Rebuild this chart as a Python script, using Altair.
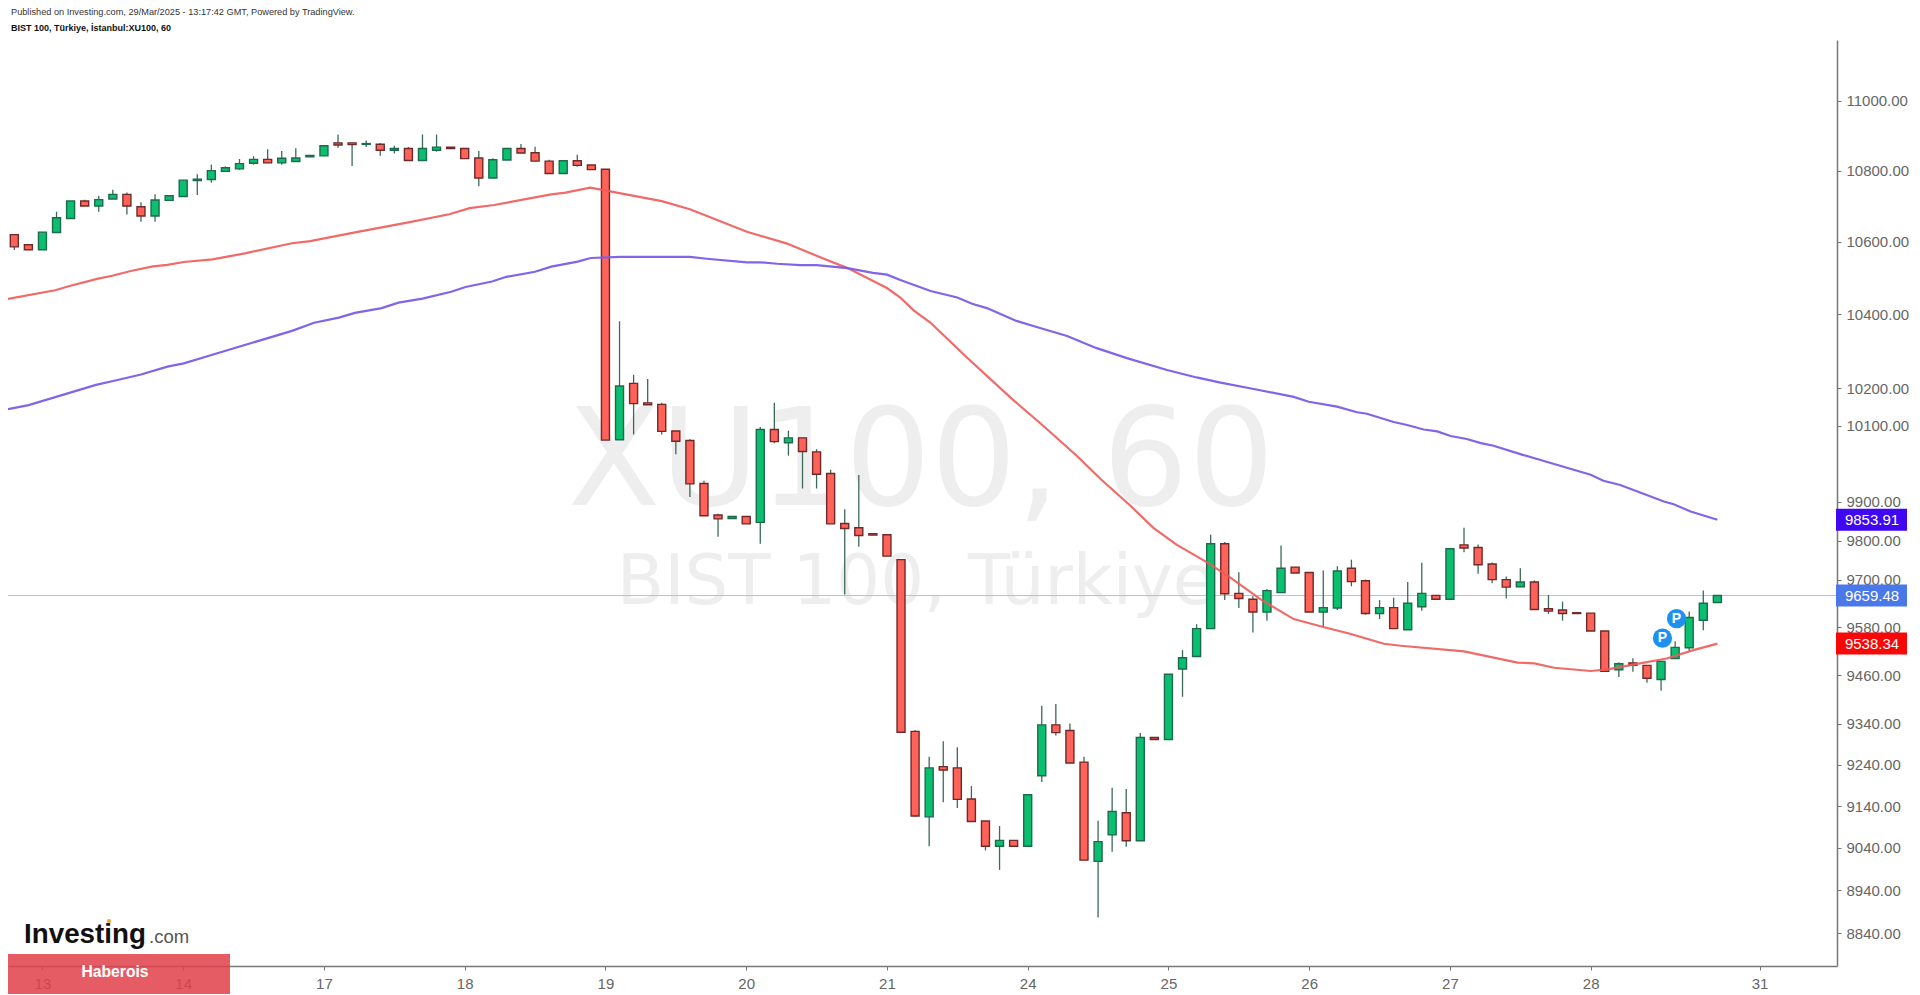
import altair as alt
import pandas as pd

# Candle values (hourly bars, BIST 100)
tops = [10620,10592,10627,10667,10714,10714,10718,10733,10733,10698,10717,10729,10773,10776,10800,10808,10820,10832,10832,10835,10836,10843,10871,10879,10879,10877,10875,10863,10863,10863,10867,10867,10863,10836,10831,10863,10863,10851,10827,10828,10828,10816,10804,
        10206,10213,10161,10157,10086,10061,9948,9866,9862,9862,10090,10090,10068,10068,10031,9974,9844,9833,9818,9815,9751,9321,9232,9235,9232,9157,9104,9058,9058,9167,9337,9337,9323,9246,9055,9127,9124,9306,9306,9462,9503,9576,
        9792,9792,9665,9650,9672,9729,9732,9718,9629,9722,9729,9697,9629,9629,9640,9665,9660,9779,9789,9782,9740,9700,9694,9694,9626,9623,9616,9615,9570,9488,9490,9484,9494,9529,9604,9640,9659.48]
bottoms = [10586,10578,10578,10626,10665,10700,10700,10720,10700,10672,10672,10716,10727,10772,10775,10798,10805,10821,10822,10822,10826,10839,10842,10873,10874,10875,10858,10858,10829,10829,10858,10863,10834,10779,10779,10830,10850,10827,10792,10792,10815,10803,10062,
           10063,10159,10156,10085,10059,9947,9864,9856,9857,9843,9847,10058,10055,10032,9972,9843,9831,9813,9814,9760,9319,9116,9114,9227,9156,9103,9044,9044,9044,9044,9213,9318,9244,9011,9008,9071,9057,9057,9301,9301,9475,9506,
           9576,9664,9652,9618,9618,9667,9717,9618,9618,9628,9695,9614,9614,9576,9573,9631,9650,9650,9781,9738,9700,9681,9682,9624,9620,9614,9614,9570,9469,9473,9484,9452,9449,9501,9528,9597,9642]
highs = [10620,10592,10627,10684,10714,10718,10729,10746,10738,10711,10733,10729,10773,10790,10817,10812,10833,10841,10861,10856,10864,10843,10871,10903,10879,10886,10879,10871,10867,10903,10903,10867,10863,10856,10835,10863,10876,10868,10831,10828,10845,10816,10804,
         10381,10236,10225,10161,10086,10064,9955,9869,9862,9862,10097,10161,10087,10068,10038,9984,9881,9970,9818,9815,9751,9324,9259,9297,9282,9188,9104,9092,9058,9167,9384,9388,9340,9259,9105,9184,9181,9317,9306,9462,9522,9587,
         9815,9796,9719,9658,9676,9787,9732,9718,9723,9734,9751,9700,9648,9654,9694,9743,9660,9779,9833,9790,9744,9708,9729,9698,9661,9644,9616,9615,9570,9492,9502,9484,9494,9544,9619,9672,9659.48]
lows = [10577,10578,10578,10626,10665,10700,10684,10720,10676,10656,10656,10716,10727,10731,10766,10798,10802,10817,10822,10817,10826,10839,10842,10865,10813,10867,10842,10849,10829,10829,10854,10863,10834,10756,10779,10830,10850,10827,10792,10792,10811,10803,10062,
        10063,10077,10156,10077,10025,9913,9864,9810,9857,9843,9792,10054,10021,9935,9935,9843,9662,9784,9814,9760,9319,9114,9044,9149,9135,9103,9034,8988,9044,9044,9198,9311,9244,9011,8876,9031,9043,9057,9301,9301,9406,9506,
        9576,9648,9628,9566,9596,9667,9717,9618,9580,9623,9683,9611,9600,9576,9573,9621,9650,9650,9770,9715,9691,9652,9682,9624,9613,9596,9614,9570,9469,9455,9468,9441,9421,9501,9520,9572,9642]
rising = [0,0,1,1,1,0,1,1,0,0,1,1,1,1,1,1,1,1,0,1,1,1,1,0,0,1,0,1,0,1,1,0,0,0,1,1,0,0,0,1,0,0,0,
          1,0,0,0,0,0,0,0,1,0,1,0,1,0,0,0,0,0,0,0,0,0,1,0,0,0,0,1,0,1,1,0,0,0,1,1,0,1,0,1,1,1,
          1,0,0,0,1,1,0,0,1,1,0,0,1,0,1,1,0,1,0,0,0,0,1,0,0,0,0,0,0,1,0,0,1,1,1,1,1]

# Moving averages: (bar position, price)
red_x = [-0.45,2.9,4.06,5.95,6.96,8.27,9.86,10.88,12.04,14.07,16.39,19.73,21.03,23.93,28.0,30.9,32.35,34.09,38.15,39.16,40.92,41.86,46.0,48.0,52.05,54.9,57.7,59.2,62.0,62.95,63.9,65.1,67.7,70.9,73.1,75.5,77.2,79.3,80.95,82.6,84.75,86.4,88.5,90.9,93.0,94.9,97.3,98.5,103.0,106.8,108.0,109.4,112.0,113.2,115.5,117.4,119.3,121.0]
red_y = [10442,10466,10479,10498,10506,10519,10532,10536,10544,10551,10568,10596,10602,10624,10654,10677,10694,10703,10733,10738,10752,10745,10714,10691,10628,10595,10550,10527,10472,10446,10411,10377,10282,10171,10100,10020,9959,9890,9832,9789,9744,9705,9651,9600,9580,9563,9538,9533,9519,9491,9489,9478,9470,9474,9489,9501,9522,9538.34]
purple_x = [-0.45,1.02,5.8,7.1,9.0,10.88,12.04,14.07,19.73,21.3,23.06,24.2,26.1,27.3,29.0,31.04,32.06,33.94,34.96,37.0,38.15,40.03,40.96,43.05,48.0,49.2,52.05,53.0,54.2,55.84,57.0,59.2,61.0,62.0,62.95,65.1,67.0,68.05,69.1,71.2,72.4,74.8,76.9,79.05,81.9,84.0,85.7,88.06,90.9,91.97,93.98,95.4,96.1,98.0,98.96,100.14,101.1,102.04,103.2,104.2,105.1,107.0,109.4,112.0,112.9,114.1,117.2,117.9,119.1,121.0]
purple_y = [10144,10155,10209,10220,10237,10258,10267,10290,10355,10377,10391,10404,10417,10432,10443,10462,10475,10490,10503,10517,10531,10545,10555,10558,10558,10553,10543,10543,10539,10535,10535,10527,10514,10509,10494,10464,10446,10429,10417,10382,10368,10341,10308,10281,10249,10229,10215,10198,10177,10164,10151,10136,10132,10110,10102,10090,10085,10073,10065,10054,10047,10025,9999,9971,9955,9944,9901,9894,9875,9853.91]

y_ticks = [11000,10800,10600,10400,10200,10100,9900,9800,9700,9580,9460,9340,9240,9140,9040,8940,8840]
x_ticks = [2,12,22,32,42,52,62,72,82,92,102,112,124]
x_labels = ["13","14","17","18","19","20","21","24","25","26","27","28","31"]

badge_prices = [9853.91, 9659.48, 9538.34]
badge_colors = ["#3f07f2", "#4b78e8", "#f90606"]
p_x = [117.1, 118.1]
p_y = [9552, 9601]

bars = pd.DataFrame({"i": list(range(len(tops))), "top": tops, "bottom": bottoms,
                     "high": highs, "low": lows, "rising": rising})

FONT = "Liberation Sans"
x_scale = alt.Scale(domain=[-0.448, 129.5], range=[0, 1829], nice=False, zero=False, padding=0)
y_scale = alt.Scale(type="log", domain=[8763.9, 11177.0], nice=False, zero=False, padding=0)

label_expr = " : ".join(f"datum.value == {v} ? '{t}'" for v, t in zip(x_ticks, x_labels)) + " : ''"
x_axis = alt.Axis(values=x_ticks, labelExpr=label_expr, title=None, grid=False, tickSize=4,
                  tickColor="#777777", domainColor="#777777", domainWidth=1.5, labelFont=FONT,
                  labelFontSize=15, labelColor="#666666", labelPadding=6, labelOverlap=False,
                  labelBound=False, labelFlush=False)
y_axis = alt.Axis(values=y_ticks, format=".2f", orient="right", title=None, grid=False, tickSize=4,
                  tickColor="#777777", domainColor="#777777", domainWidth=1.5, labelFont=FONT,
                  labelFontSize=15, labelColor="#666666", labelPadding=5, labelOverlap=False,
                  labelBound=False, labelFlush=False)
X = alt.X("i:Q", scale=x_scale, axis=x_axis)
Y = lambda f: alt.Y(f, scale=y_scale, axis=y_axis)
rows = pd.DataFrame({"n": [0]})


def text(t, px, py, size, color, weight="normal", align="left", font=FONT):
    return alt.Chart(rows).mark_text(text=t, fontSize=size, color=color, fontWeight=weight,
                                     align=align, baseline="middle", font=font).encode(
        x=alt.value(px - 8), y=alt.value(py - 40))


wm1 = text("XU100, 60", 921, 464, 135, "#eeeeee", align="center", font="DejaVu Sans")
wm2 = text("BIST 100, Türkiye", 916, 583, 69, "#eeeeee", align="center", font="DejaVu Sans")

price_line = alt.Chart(pd.DataFrame({"p": [badge_prices[1]]})).mark_rule(
    color="#aebff2", strokeWidth=1).encode(y=Y("p:Q"))

wicks = alt.Chart(bars).mark_rule(color="#3c6a58", strokeWidth=1.3).encode(
    x=X, y=Y("high:Q"), y2="low:Q")

rise_scale = alt.Scale(domain=[0, 1], range=["#ff6259", "#0abf70"])
edge_scale = alt.Scale(domain=[0, 1], range=["#6e2a2a", "#1d6b4c"])
bodies = alt.Chart(bars).mark_bar(size=8, strokeWidth=1.4, orient="vertical").encode(
    x=X, y=Y("top:Q"), y2="bottom:Q",
    fill=alt.Fill("rising:O", scale=rise_scale, legend=None),
    stroke=alt.Stroke("rising:O", scale=edge_scale, legend=None))

red_line = alt.Chart(pd.DataFrame({"i": red_x, "p": red_y})).mark_line(
    color="#ee5a58", strokeWidth=2.2, opacity=0.9).encode(x=X, y=Y("p:Q"))
purple_line = alt.Chart(pd.DataFrame({"i": purple_x, "p": purple_y})).mark_line(
    color="#7a5ce8", strokeWidth=2.2, opacity=0.95).encode(x=X, y=Y("p:Q"))

p_df = pd.DataFrame({"i": p_x, "p": p_y})
p_dots = alt.Chart(p_df).mark_circle(size=370, color="#1e90f0", opacity=1).encode(x=X, y=Y("p:Q"))
p_text = alt.Chart(p_df).mark_text(text="P", color="white", fontSize=14, font=FONT, fontWeight="bold",
                                   baseline="middle").encode(x=X, y=Y("p:Q"))

b_df = pd.DataFrame({"p": badge_prices, "c": badge_colors,
                     "t": [f"{v:.2f}" for v in badge_prices]})
badges = alt.Chart(b_df).mark_rect(height=22).encode(
    x=alt.value(1828), x2=alt.value(1899), y=Y("p:Q"),
    fill=alt.Fill("c:N", scale=None, legend=None))
badge_text = alt.Chart(b_df).mark_text(color="white", fontSize=15, font=FONT, baseline="middle").encode(
    x=alt.value(1864), y=Y("p:Q"), text="t:N")

head1 = text("Published on Investing.com, 29/Mar/2025 - 13:17:42 GMT, Powered by TradingView.",
             11, 12, 9.2, "#333333")
head2 = text("BIST 100, Türkiye, İstanbul:XU100, 60", 11, 28, 9, "#111111", weight="bold")
logo1 = text("Investing", 24, 935, 27.8, "#111111", weight="bold")
logo2 = text(".com", 149, 937, 18.5, "#555555")
logo_dot = alt.Chart(rows).mark_circle(size=18, color="#f5a623", opacity=1).encode(
    x=alt.value(101), y=alt.value(881))
banner = alt.Chart(rows).mark_rect(color="#e0404a", opacity=0.85).encode(
    x=alt.value(0), x2=alt.value(222), y=alt.value(914), y2=alt.value(954))
banner_text = text("Haberois", 115, 972, 15.7, "white", weight="bold", align="center")

chart = alt.layer(
    wm1, wm2, price_line, wicks, bodies, red_line, purple_line, p_dots, p_text,
    badges, badge_text, head1, head2, logo1, logo2, logo_dot, banner, banner_text
).properties(
    width=1829, height=926,
    padding={"left": 0, "top": 32, "right": 75, "bottom": 29},
    autosize=alt.AutoSizeParams(type="none"),
    background="white",
).configure_view(stroke=None)

chart.save("out.html", embed_options={"renderer": "svg", "actions": False})
